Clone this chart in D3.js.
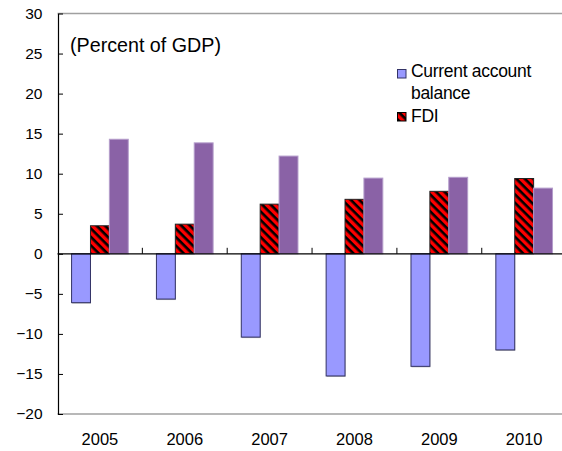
<!DOCTYPE html>
<html>
<head>
<meta charset="utf-8">
<script src="https://cdn.jsdelivr.net/npm/d3@7"></script>
<style>
  html, body { margin: 0; padding: 0; background: #fff; }
  svg { display: block; font-family: "Liberation Sans", Arial, sans-serif; }
</style>
</head>
<body>
<svg id="chart" width="562" height="451"></svg>
<script>
// ---- Data ----
const years = ["2005", "2006", "2007", "2008", "2009", "2010"];
const currentAccount = [-6.1, -5.65, -10.4, -15.25, -14.05, -12.0];
const fdi = [3.5, 3.7, 6.2, 6.8, 7.8, 9.4];
const otherSeries = [14.3, 13.85, 12.2, 9.45, 9.55, 8.2];
const yTicks = [-20, -15, -10, -5, 0, 5, 10, 15, 20, 25, 30];
const seriesNames = ["Current account balance", "FDI", "Other"];
const legendLines = [["Current account", "balance"], ["FDI"]];
const titleText = "(Percent of GDP)";

// ---- Layout ----
const svg = d3.select("#chart");
const plotLeft = 57.5, plotRight = 566.6, plotTop = 13.5, plotBottom = 414;

const y = d3.scaleLinear().domain([-20, 30]).range([plotBottom, plotTop]);
const x = d3.scaleBand().domain(years).range([plotLeft, plotRight]).padding(0);
const xs = d3.scaleBand().domain(seriesNames).range([0, x.bandwidth()])
  .paddingInner(0).paddingOuter(0.745);

// pattern for FDI
const defs = svg.append("defs");
const pat = defs.append("pattern").attr("id", "hatch")
  .attr("patternUnits", "userSpaceOnUse").attr("width", 6).attr("height", 6)
  .attr("patternTransform", "rotate(45)");
pat.append("rect").attr("width", 6).attr("height", 6).attr("fill", "#ff0000");
pat.append("rect").attr("width", 6).attr("height", 2.6).attr("fill", "#000");

// frame lines (top / bottom gray)
svg.append("line").attr("x1", plotLeft).attr("x2", 562).attr("y1", y(30)).attr("y2", y(30))
  .attr("stroke", "#a0a0a0").attr("stroke-width", 1.3);
svg.append("line").attr("x1", plotLeft).attr("x2", 562).attr("y1", y(-20)).attr("y2", y(-20))
  .attr("stroke", "#a0a0a0").attr("stroke-width", 1.3);

// bars
const data = years.map((yr, i) => ({ yr, vals: [currentAccount[i], fdi[i], otherSeries[i]] }));
const styles = [
  { fill: "#9999ff", stroke: "#333366" },
  { fill: "url(#hatch)", stroke: "#222" },
  { fill: "#8a62a6", stroke: "#b49dcb" }
];
const g = svg.append("g");
data.forEach(d => {
  d.vals.forEach((v, k) => {
    const x0 = x(d.yr) + xs(seriesNames[k]);
    const y0 = Math.min(y(v), y(0)), h = Math.abs(y(v) - y(0));
    if (k === 0) {
      g.append("rect").attr("x", x0 + 0.5).attr("y", y0 + 1).attr("width", xs.bandwidth())
        .attr("height", h).attr("fill", "#b8b8b8");
    }
    g.append("rect").attr("x", x0).attr("y", y0).attr("width", xs.bandwidth()).attr("height", h)
      .attr("fill", styles[k].fill).attr("stroke", styles[k].stroke).attr("stroke-width", 1);
  });
});

// zero line
svg.append("line").attr("x1", plotLeft).attr("x2", 562).attr("y1", y(0)).attr("y2", y(0))
  .attr("stroke", "#000").attr("stroke-width", 1.2);

// category ticks at zero line
years.slice(1).forEach(yr => {
  svg.append("line").attr("x1", x(yr)).attr("x2", x(yr)).attr("y1", y(0)).attr("y2", y(0) - 6)
    .attr("stroke", "#000").attr("stroke-width", 1);
});

// y axis
const yAxis = svg.append("g").attr("transform", `translate(${plotLeft + 0.5},0)`)
  .call(d3.axisLeft(y).tickValues(yTicks).tickSizeInner(-5).tickSizeOuter(0).tickPadding(15));
yAxis.select(".domain").attr("stroke", "#000").attr("stroke-width", 1.2);
yAxis.selectAll(".tick line").attr("stroke", "#000");
yAxis.selectAll(".tick text").attr("font-size", 15.5).attr("fill", "#000")
  .attr("font-family", "Liberation Sans, Arial, sans-serif").attr("x", -15.5);

// x labels
svg.append("g").selectAll("text").data(years).join("text")
  .attr("x", d => x(d) + x.bandwidth() / 2).attr("y", 445)
  .attr("text-anchor", "middle").attr("font-size", 16.5).attr("fill", "#000")
  .text(d => d);

// title
svg.append("text").attr("x", 70).attr("y", 52).attr("font-size", 19.7).attr("fill", "#000")
  .text(titleText);

// legend
const leg = svg.append("g");
leg.append("rect").attr("x", 397.5).attr("y", 69.5).attr("width", 8.5).attr("height", 8.5)
  .attr("fill", styles[0].fill).attr("stroke", styles[0].stroke);
leg.append("rect").attr("x", 397.5).attr("y", 112.5).attr("width", 8.5).attr("height", 8.5)
  .attr("fill", styles[1].fill).attr("stroke", "#000");
const legText = [[legendLines[0][0], 77], [legendLines[0][1], 98.5], [legendLines[1][0], 121.5]];
legText.forEach(([t, by]) => {
  leg.append("text").attr("x", 411).attr("y", by).attr("font-size", 17.5)
    .attr("letter-spacing", "-0.3px").attr("fill", "#000").text(t);
});
</script>
</body>
</html>
